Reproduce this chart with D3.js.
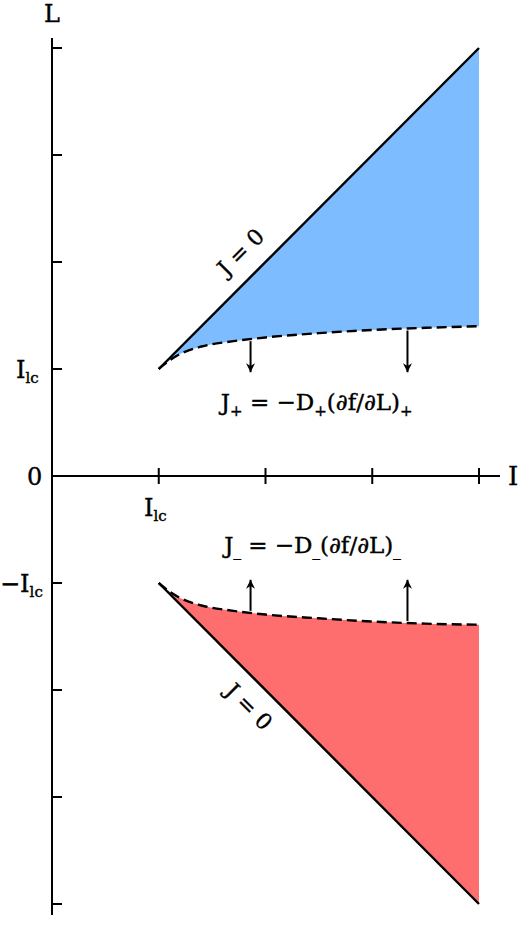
<!DOCTYPE html><html><head><script src="https://cdn.jsdelivr.net/npm/d3@7"></script>
<style>body{margin:0;background:#fff}text{font-family:"DejaVu Serif",serif;fill:#000;stroke:#000;stroke-width:0.4}</style></head><body>
<svg id="c" width="520" height="925"></svg>
<script>
const xTicks=[1,2,3,4];
const yTicks=[-4,-3,-2,-1,1,2,3,4];
const curveI=[1,1.1,1.2,1.4,1.7,2,2.5,3,3.5,4];
const curveUpper=[1,1.08,1.14,1.21,1.26,1.295,1.335,1.365,1.385,1.40];
const curveLower=[-1,-1.08,-1.14,-1.21,-1.26,-1.295,-1.33,-1.36,-1.38,-1.39];
const arrowI=[1.86,3.33];
const svg=d3.select("#c");
const x=d3.scaleLinear().domain([0,4]).range([52,479]);
const y=d3.scaleLinear().domain([0,4]).range([476,48]);
const up=curveI.map((d,i)=>[d,curveUpper[i]]), lo=curveI.map((d,i)=>[d,curveLower[i]]);
const line=d3.line().x(d=>x(d[0])).y(d=>y(d[1])).curve(d3.curveMonotoneX);
const lin=d3.line().x(d=>x(d[0])).y(d=>y(d[1]));
// fills
svg.append("path").attr("d",line(up)+lin([[4,4],[1,1]]).replace("M","L")+"Z").attr("fill","#7dbdff");
svg.append("path").attr("d",line(lo)+lin([[4,-4],[1,-1]]).replace("M","L")+"Z").attr("fill","#ff6e6e");
// J=0 lines
svg.append("path").attr("d",lin([[1,1],[4,4]])).attr("stroke","#000").attr("stroke-width",2.4).attr("fill","none");
svg.append("path").attr("d",lin([[1,-1],[4,-4]])).attr("stroke","#000").attr("stroke-width",2.4).attr("fill","none");
[up,lo].forEach(c=>svg.append("path").attr("d",line(c)).attr("stroke","#000").attr("stroke-width",2.4).attr("stroke-dasharray","10,5").attr("fill","none"));
// axes
svg.append("line").attr("x1",x(0)).attr("x2",500).attr("y1",y(0)).attr("y2",y(0)).attr("stroke","#000").attr("stroke-width",2);
svg.append("line").attr("x1",x(0)).attr("x2",x(0)).attr("y1",38).attr("y2",915).attr("stroke","#000").attr("stroke-width",2);
xTicks.forEach(t=>svg.append("line").attr("x1",x(t)).attr("x2",x(t)).attr("y1",y(0)-8).attr("y2",y(0)+8).attr("stroke","#000").attr("stroke-width",2));
yTicks.forEach(t=>svg.append("line").attr("x1",x(0)).attr("x2",x(0)+10).attr("y1",y(t)).attr("y2",y(t)).attr("stroke","#000").attr("stroke-width",2));
// arrows
svg.append("defs").append("marker").attr("id","ah").attr("viewBox","0 0 10 10").attr("refX",10).attr("refY",5).attr("markerWidth",14).attr("markerHeight",9).attr("orient","auto").attr("markerUnits","userSpaceOnUse")
 .append("path").attr("d","M0,0L10,5L0,10L3,5Z").attr("fill","#000");
const fu=d3.scaleLinear().domain(curveI).range(curveUpper), fl=d3.scaleLinear().domain(curveI).range(curveLower);
arrowI.forEach(a=>{
 svg.append("line").attr("x1",x(a)).attr("x2",x(a)).attr("y1",y(fu(a))+2).attr("y2",y(0.97)).attr("stroke","#000").attr("stroke-width",2).attr("marker-end","url(#ah)");
 svg.append("line").attr("x1",x(a)).attr("x2",x(a)).attr("y1",y(fl(a))-2).attr("y2",y(-0.97)).attr("stroke","#000").attr("stroke-width",2).attr("marker-end","url(#ah)");
});
// labels
function sub(main,s,px,py){const e=svg.append("text").attr("x",px).attr("y",py).attr("font-size",24);
 e.append("tspan").text(main);e.append("tspan").attr("font-size",15).attr("dy",5).text(s);return e;}
sub("I","lc",16,y(1)+9);
svg.append("text").attr("x",27).attr("y",y(0)+9).attr("font-size",24).text("0");
sub("−I","lc",0,y(-1)+9);
sub("I","lc",144,516);
svg.append("text").attr("x",44).attr("y",22).attr("font-size",24).text("L");
svg.append("text").attr("x",508).attr("y",y(0)+9).attr("font-size",26).text("I");
const f1=svg.append("text").attr("x",x(2.48)).attr("y",y(0.62)).attr("font-size",23).attr("text-anchor","middle");
f1.html('J<tspan font-size="15" dy="6">+</tspan><tspan dy="-6"> = −D</tspan><tspan font-size="15" dy="6">+</tspan><tspan dy="-6">(∂f/∂L)</tspan><tspan font-size="15" dy="6">+</tspan>');
const f2=svg.append("text").attr("x",x(2.44)).attr("y",y(-0.72)).attr("font-size",23).attr("text-anchor","middle");
f2.html('J<tspan font-size="15" dy="3">_</tspan><tspan dy="-3"> = −D</tspan><tspan font-size="15" dy="3">_</tspan><tspan dy="-3">(∂f/∂L)</tspan><tspan font-size="15" dy="3">_</tspan>');
svg.append("text").attr("transform",`translate(${x(1.93)-12},${y(1.93)-12}) rotate(-45)`).attr("font-size",22).attr("text-anchor","middle").text("J = 0");
svg.append("text").attr("transform",`translate(${x(2.0)-22},${y(-2.0)+22}) rotate(45)`).attr("font-size",22).attr("text-anchor","middle").text("J = 0");
</script></body></html>
